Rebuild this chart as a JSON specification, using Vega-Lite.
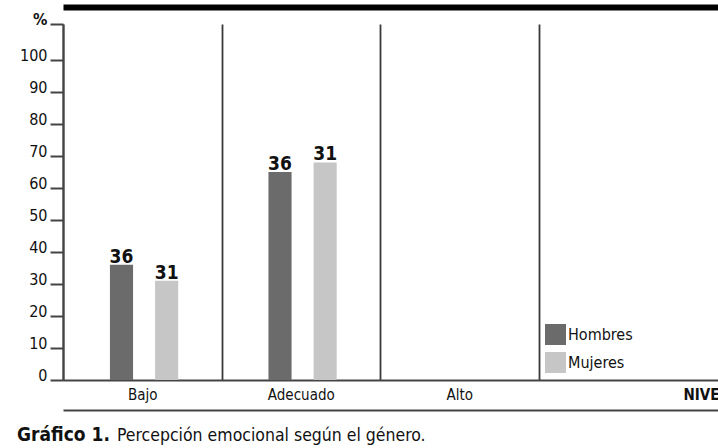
{
  "$schema": "https://vega.github.io/schema/vega-lite/v6.json",
  "autosize": "none",
  "width": 655,
  "height": 356,
  "padding": {"left": 63, "top": 24, "right": 0, "bottom": 68},
  "background": "#ffffff",
  "config": {
    "font": "DejaVu Sans Condensed",
    "view": {"stroke": null}
  },
  "title": {
    "text": "Gráfico 1.",
    "subtitle": "\u200b\u00a0\u00a0\u00a0\u00a0\u00a0\u00a0\u00a0\u00a0\u00a0\u00a0\u00a0\u00a0\u00a0\u00a0\u00a0\u00a0\u00a0\u00a0\u00a0\u00a0Percepción emocional según el género.",
    "orient": "bottom",
    "anchor": "start",
    "frame": "group",
    "dx": -46,
    "offset": 16,
    "font": "DejaVu Sans Condensed",
    "fontSize": 19,
    "fontWeight": "bold",
    "color": "#111111",
    "subtitleFont": "DejaVu Sans Condensed",
    "subtitleFontSize": 17.5,
    "subtitleColor": "#111111",
    "subtitlePadding": -18.5
  },
  "data": {
    "values": [
      {"nivel": "Bajo", "sexo": "Hombres", "pct": 36, "etiqueta": "36"},
      {"nivel": "Bajo", "sexo": "Mujeres", "pct": 31, "etiqueta": "31"},
      {"nivel": "Adecuado", "sexo": "Hombres", "pct": 65, "etiqueta": "36"},
      {"nivel": "Adecuado", "sexo": "Mujeres", "pct": 68, "etiqueta": "31"}
    ]
  },
  "encoding": {
    "xOffset": {
      "field": "sexo",
      "type": "nominal",
      "scale": {"domain": ["Hombres", "Mujeres"], "paddingInner": 0.488, "paddingOuter": 1.087, "align": 0.52}
    },
    "y": {
      "field": "pct",
      "type": "quantitative",
      "scale": {"domain": [0, 111.25], "nice": false},
      "axis": {
        "values": [0, 10, 20, 30, 40, 50, 60, 70, 80, 90, 100, 111.25],
        "labelExpr": "datum.value > 105 ? '%' : datum.label",
        "labelOverlap": false,
        "title": null,
        "domainColor": "#444444",
        "domainWidth": 2,
        "tickColor": "#444444",
        "tickWidth": 2,
        "tickSize": 13,
        "labelFontSize": 16,
        "labelColor": "#111111",
        "labelFontWeight": {"condition": {"test": "datum.value > 105", "value": "bold"}, "value": "normal"},
        "labelPadding": 3,
        "labelBaseline": "alphabetic",
        "grid": true,
        "gridColor": "#444444",
        "gridWidth": 2,
        "gridOpacity": {"condition": {"test": "datum.value === 0", "value": 1}, "value": 0}
      }
    }
  },
  "resolve": {"axis": {"x": "independent"}, "scale": {"x": "shared"}},
  "layer": [
    {
      "mark": {"type": "bar"},
      "encoding": {
        "x": {
          "field": "nivel",
          "type": "nominal",
          "sort": ["Bajo", "Adecuado", "Alto"],
          "scale": {"domain": ["Bajo", "Adecuado", "Alto"], "paddingInner": 0, "paddingOuter": 0.566, "align": 0},
          "axis": {
            "orient": "bottom",
            "offset": 30,
            "domainColor": "#444444",
            "domainWidth": 2,
            "ticks": false,
            "tickSize": 0,
            "tickBand": "extent",
            "grid": true,
            "gridColor": "#3a3a3a",
            "gridWidth": 1.8,
            "labelAngle": 0,
            "labelFontSize": 15,
            "labelColor": "#111111",
            "labelBaseline": "middle",
            "labelPadding": -16,
            "title": "NIVEL",
            "titleX": 620,
            "titleY": -16,
            "titleAlign": "left",
            "titleBaseline": "middle",
            "titleFontSize": 15,
            "titleFontWeight": "bold",
            "titleColor": "#111111"
          }
        },
        "color": {
          "field": "sexo",
          "type": "nominal",
          "scale": {"domain": ["Hombres", "Mujeres"], "range": ["#6b6b6b", "#c6c6c6"]},
          "legend": {
            "orient": "none",
            "legendX": 482,
            "legendY": 300,
            "title": null,
            "padding": 0,
            "symbolType": "square",
            "symbolSize": 441,
            "symbolStrokeWidth": 0,
            "symbolOpacity": 1,
            "labelFontSize": 16,
            "labelColor": "#111111",
            "labelOffset": 2,
            "rowPadding": 7
          }
        }
      }
    },
    {
      "mark": {"type": "text", "baseline": "alphabetic", "dy": -2, "fontSize": 19, "fontWeight": "bold", "color": "#111111"},
      "encoding": {
        "x": {
          "field": "nivel",
          "type": "nominal",
          "axis": {
            "orient": "top",
            "offset": 17,
            "domainColor": "#000000",
            "domainWidth": 6,
            "ticks": false,
            "labels": false,
            "grid": false,
            "title": null
          }
        },
        "text": {"field": "etiqueta"}
      }
    }
  ]
}
